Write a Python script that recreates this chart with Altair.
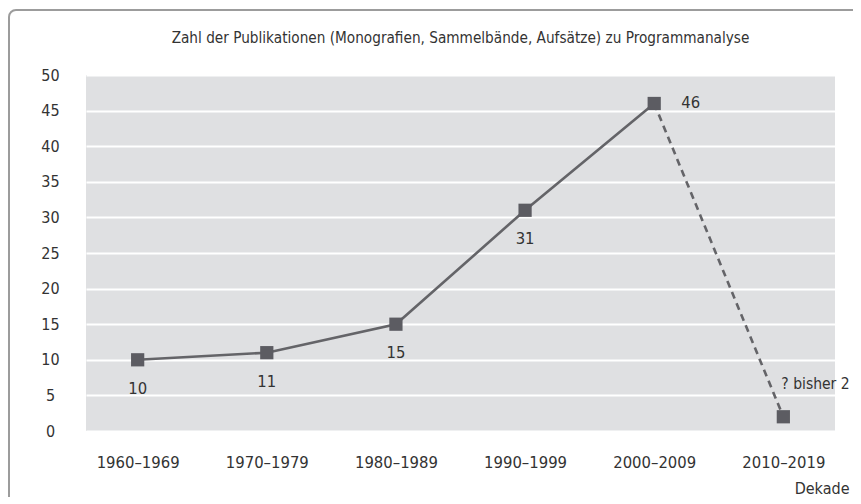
import altair as alt
import pandas as pd

decades = ["1960–1969", "1970–1979", "1980–1989", "1990–1999", "2000–2009", "2010–2019"]
counts = [10, 11, 15, 31, 46, 2]
labels = ["10", "11", "15", "31", "46", "? bisher 2"]
y_ticks = [0, 5, 10, 15, 20, 25, 30, 35, 40, 45, 50]
chart_title = "Zahl der Publikationen (Monografien, Sammelbände, Aufsätze) zu Programmanalyse"

FONT = "DejaVu Sans Condensed, sans-serif"
TEXT = "#333333"
LINE = "#646468"
MARK = "#5c5c62"

df = pd.DataFrame({"Dekade": decades, "Anzahl": counts, "Label": labels, "i": list(range(len(decades)))})

base = alt.Chart(df).encode(
    x=alt.X(
        "Dekade:N",
        sort=decades,
        scale=alt.Scale(type="point", padding=0.4),
        axis=alt.Axis(
            title="Dekade",
            labelAngle=0,
            labelFont=FONT,
            labelFontSize=16.5,
            labelColor=TEXT,
            labelBaseline="middle",
            labelPadding=31,
            ticks=False,
            domain=False,
            grid=False,
            titleFont=FONT,
            titleFontSize=16,
            titleFontWeight="normal",
            titleColor=TEXT,
            titleAlign="right",
            titleBaseline="middle",
            titleX=763,
            titleY=57,
        ),
    ),
    y=alt.Y(
        "Anzahl:Q",
        scale=alt.Scale(domain=[0, 50], nice=False),
        axis=alt.Axis(
            title=None,
            values=y_ticks,
            labelFont=FONT,
            labelFontSize=16,
            labelColor=TEXT,
            labelAlign="center",
            labelPadding=36,
            ticks=False,
            domain=False,
            grid=True,
            gridColor="#ffffff",
            gridWidth=1.8,
        ),
    ),
)

one = alt.Data(values=[{"t": chart_title}])

frame = alt.Chart(one).mark_rect(
    cornerRadius=7, fillOpacity=0, stroke="#9c9c9c", strokeWidth=2
).encode(x=alt.value(-77), x2=alt.value(900), y=alt.value(-65), y2=alt.value(480))

title = alt.Chart(one).mark_text(font=FONT, fontSize=15.2, color=TEXT, baseline="middle").encode(
    x=alt.value(374.5), y=alt.value(-37), text="t:N"
)

solid = base.mark_line(color=LINE, strokeWidth=2.6).transform_filter("datum.i <= 4")
dashed = base.mark_line(color=LINE, strokeWidth=2.6, strokeDash=[7, 5]).transform_filter("datum.i >= 4")
points = base.mark_point(shape="square", filled=True, size=175, opacity=1, color=MARK)

txt = dict(font=FONT, fontSize=16.5, color=TEXT)
lab_below = base.mark_text(dy=29, **txt).encode(text="Label:N").transform_filter("datum.i <= 3")
lab_right = base.mark_text(align="left", dx=27, **txt).encode(text="Label:N").transform_filter("datum.i == 4")
lab_last = base.mark_text(align="left", dx=-2, dy=-33, font=FONT, fontSize=15.5, color=TEXT).encode(
    text="Label:N"
).transform_filter("datum.i == 5")

chart = alt.layer(frame, title, solid, dashed, points, lab_below, lab_right, lab_last).properties(
    width=749,
    height=356,
    autosize=alt.AutoSizeParams(type="none"),
    padding={"left": 78, "top": 67, "right": 18, "bottom": 66},
).configure_view(fill="#dfe0e2", strokeWidth=0)

chart.save("out.html", embed_options={"renderer": "svg", "actions": False})
